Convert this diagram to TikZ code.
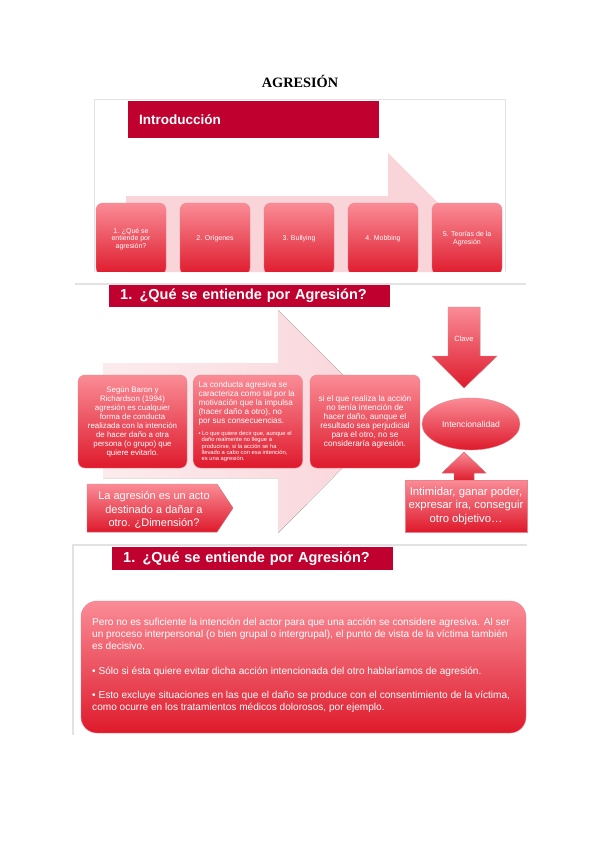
\documentclass[tikz,border=0pt]{standalone}
\usepackage{fontspec}
\setmainfont{Liberation Sans}
\newfontfamily\titlefont{Liberation Serif}
\usepackage{xcolor}
\usetikzlibrary{shapes.geometric, positioning, calc}
\definecolor{barred}{RGB}{192,0,47}
\definecolor{boxtop}{RGB}{250,140,150}
\definecolor{boxbot}{RGB}{222,26,44}
\definecolor{bgpink}{RGB}{249,212,217}
\definecolor{framegray}{RGB}{226,226,226}

\begin{document}
\begin{tikzpicture}[x=1pt, y=-1pt,
  bar/.style={rectangle, fill=barred, text=white, anchor=north west,
              font=\bfseries\fontsize{14.5}{16}\selectfont, align=left,
              inner xsep=11pt, inner ysep=0pt},
  card/.style={rectangle, rounded corners=7pt, top color=boxtop,
               bottom color=boxbot, draw=boxbot!55, text=white, align=center},
  topcard/.style={card, minimum width=70pt, minimum height=72pt,
                  font=\fontsize{7}{7.8}\selectfont},
  midcard/.style={card, minimum width=109pt, minimum height=93pt},
  txt/.style={text=white, inner sep=0pt},
  redfill/.style={top color=boxtop, bottom color=boxbot, draw=boxbot!55}
]
\useasboundingbox (0,0) rectangle (599,848);
\node[font=\titlefont\bfseries\fontsize{14.3}{16}\selectfont] (title) at (300,81) {AGRESIÓN};

\draw[framegray] (94,272) -- (94,99) -- (505,99) -- (505,272);
\node[bar, minimum width=251pt, minimum height=37pt, text width=229pt,
      font=\bfseries\fontsize{13.5}{15}\selectfont] (intro) at (128,101) {Introducción};
\fill[bgpink] (126,196) -- (388,196) -- (388,153) -- (470,235) -- (433,272) -- (126,272) -- cycle;
\begin{scope}
\clip (94,99) rectangle (507,271);
\foreach \i/\x/\lbl in {1/131/{1. ¿Qué se\\entiende por\\agresión?}, 2/215/2. Orígenes,
                        3/299/3. Bullying, 4/383/4. Mobbing, 5/467/{5. Teorías de la\\Agresión}}{
  \node[topcard] (t\i) at (\x,239) {\lbl};
}
\end{scope}

\draw[framegray, line width=1.5pt] (75,284) -- (526,284);
\node[bar, minimum width=281pt, minimum height=22pt, text width=259pt] (q1) at (109,285)
  {1. ¿Qué se entiende por Agresión?};
\fill[left color=bgpink!45, right color=bgpink] (103,363) -- (278,363) -- (278,310) -- (389,421)
  -- (278,533) -- (278,478) -- (103,478) -- cycle;
\node[midcard, font=\fontsize{7.9}{9}\selectfont] (baron) at (132.5,421.5)
  {Según Baron y\\Richardson (1994)\\agresión es cualquier\\forma de conducta\\realizada con la intención\\de hacer daño a otra\\persona (o grupo) que\\quiere evitarlo.};
\node[midcard] (motiv) at (248,421.5) {};
\node[txt, anchor=north west, align=left, font=\fontsize{8.2}{9}\selectfont] (motivtxt)
  at ($(motiv.north west)+(5,7)$)
  {La conducta agresiva se\\caracteriza como tal por la\\motivación que la impulsa\\(hacer daño a otro), no\\por sus consecuencias.};
\node[txt, anchor=north west, align=left, font=\fontsize{5.8}{6.4}\selectfont] (motivnote)
  at ($(motivtxt.south west)+(0,5)$)
  {• Lo que quiere decir que, aunque el\\\ \ daño realmente no llegue a\\\ \ producirse, si la acción se ha\\\ \ llevado a cabo con esa intención,\\\ \ es una agresión.};
\node[midcard, minimum width=110pt, font=\fontsize{8.3}{9}\selectfont] (nointen) at (365,421.5)
  {si el que realiza la acción\\no tenía intención de\\hacer daño, aunque el\\resultado sea perjudicial\\para el otro, no se\\consideraría agresión.};

\fill[redfill] (448,307) -- (480,307) -- (480,356) -- (497,356) -- (464,388) -- (432,356)
  -- (448,356) -- cycle;
\node[txt, font=\fontsize{7.5}{9}\selectfont] (clave) at (464,339) {Clave};
\node[ellipse, redfill, minimum width=98pt, minimum height=52pt, text=white,
      font=\fontsize{8.6}{10}\selectfont] (inten) at (471,424) {Intencionalidad};
\fill[redfill] (464,452) -- (486,473) -- (474,473) -- (474,481) -- (454,481) -- (454,473)
  -- (442,473) -- cycle;
\node[rectangle, redfill, minimum width=122pt, minimum height=52pt, text=white, align=center,
      font=\fontsize{11.3}{13.5}\selectfont] (motivos) at (466,506)
  {Intimidar, ganar poder,\\expresar ira, conseguir\\otro objetivo…};
\fill[redfill] (87,484) -- (217,484) -- (233,508) -- (217,532) -- (87,532) -- cycle;
\node[txt, align=center, font=\fontsize{11}{13.5}\selectfont] (dimension) at (154,510)
  {La agresión es un acto\\destinado a dañar a\\otro. ¿Dimensión?};

\draw[framegray, line width=1.5pt] (73,735) -- (73,545) -- (527,545);
\node[bar, minimum width=281pt, minimum height=23pt, text width=259pt] (q2) at (112,547)
  {1. ¿Qué se entiende por Agresión?};
\node[card, rounded corners=16pt, minimum width=445pt, minimum height=132pt] (victima)
  at (303.5,667) {};
\node[txt, anchor=north west, align=left, font=\fontsize{10.1}{12}\selectfont] (p1) at (92,618)
  {Pero no es suficiente la intención del actor para que una acción se considere agresiva. Al ser\\un proceso interpersonal (o bien grupal o intergrupal), el punto de vista de la víctima también\\es decisivo.};
\node[txt, anchor=north west, align=left, font=\fontsize{10.1}{12}\selectfont] (p2) at (92,667)
  {• Sólo si ésta quiere evitar dicha acción intencionada del otro hablaríamos de agresión.};
\node[txt, anchor=north west, align=left, font=\fontsize{10.1}{12}\selectfont] (p3) at (92,691)
  {• Esto excluye situaciones en las que el daño se produce con el consentimiento de la víctima,\\como ocurre en los tratamientos médicos dolorosos, por ejemplo.};
\end{tikzpicture}
\end{document}
